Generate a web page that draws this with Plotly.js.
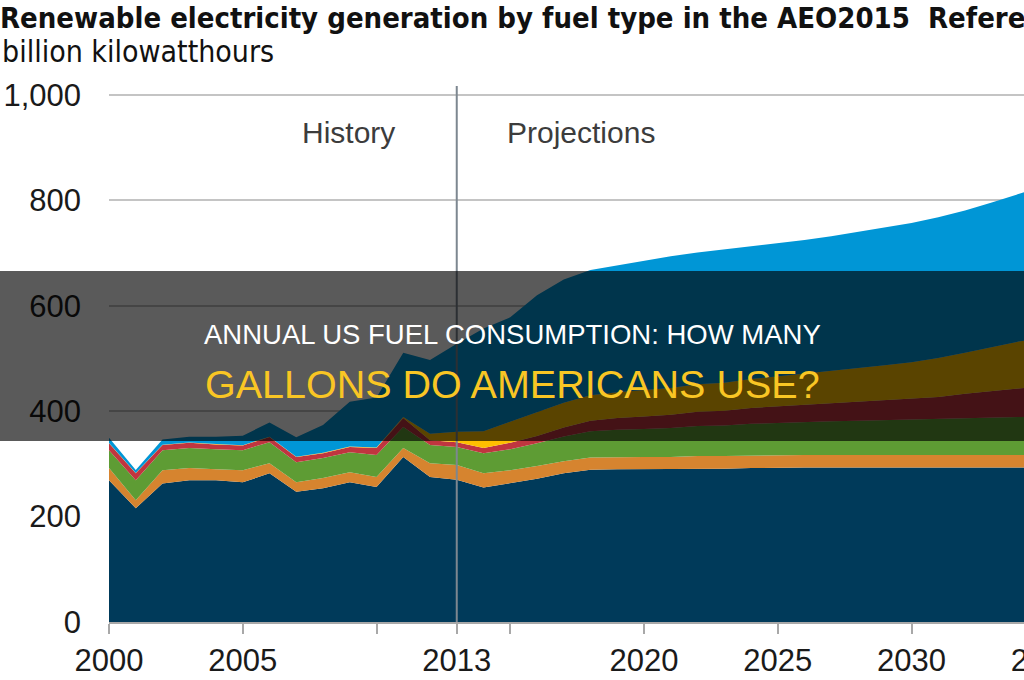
<!DOCTYPE html>
<html>
<head>
<meta charset="utf-8">
<script src="https://cdn.plot.ly/plotly-3.0.1.min.js"></script>
<style>
  html, body { margin:0; padding:0; overflow:hidden; width:1024px; height:680px; background:#fff; }
  #chart { width:1200px; height:680px; }
</style>
</head>
<body>
<div id="chart"></div>
<script>
// ---- data (billion kilowatthours) ----
const years = [2000,2001,2002,2003,2004,2005,2006,2007,2008,2009,2010,2011,2012,2013,
               2014,2015,2016,2017,2018,2019,2020,2021,2022,2023,2024,2025,2026,2027,
               2028,2029,2030,2031,2032,2033,2034,2035];
const hydro      = [269,216,263,269,269,265,282,247,254,265,256,313,275,270,
                    255,263,272,282,289,290,290,290,291,291,292,293,293,293,293,293,293,293,293,293,293,293];
const msw        = [23,15,25,23,21,23,19,18,19,19,19,17,26,28,
                    27,25,24,23,23,23,23,23,24,24,24,24,24,24,24,24,24,24,24,24,24,24];
const biomass    = [34,38,38,38,38,38,40,38,38,38,42,40,35,34,
                    38,40,43,47,50,52,53,55,57,58,60,61,62,64,65,66,67,68,70,71,72,73];
const geothermal = [13,13,10,10,9,9,10,10,9,10,13,17,9,9,
                    10,12,14,17,20,22,24,25,27,28,30,31,33,34,36,37,39,42,46,50,55,58];
const solar      = [0.5,0.5,0.5,0.5,0.6,0.6,0.5,0.6,0.9,0.9,1.2,2,12,20,
                    32,40,45,47,48,49,50,51,52,53,55,57,59,61,64,67,70,74,78,83,88,92];
const wind       = [10,6,10,11,14,18,27,37,53,85,95,122,140,167,
                    195,198,222,234,238,241,246,250,250,253,251,252,254,256,258,261,264,267,270,275,280,288];

const xTickVals = [2000,2005,2010,2013,2015,2020,2025,2030,2035,2040];
const xTickText = ['2000','2005','','2013','','2020','2025','2030','2035','2040'];
const yTickVals = [0,200,400,600,800,1000];
const yTickText = ['0','200','400','600','800','1,000'];

const seriesNames  = ['Hydropower','MSW/LFG','Biomass','Geothermal','Solar','Wind'];
const seriesValues = [hydro, msw, biomass, geothermal, solar, wind];
const seriesColors = ['#003a5a','#d6842f','#5e9c34','#c0353f','#ffc000','#0096d6'];

const traces = seriesValues.map((vals, i) => ({
  type: 'scatter',
  mode: 'lines',
  x: years,
  y: vals,
  name: seriesNames[i],
  stackgroup: 'one',
  line: { width: 0, color: seriesColors[i] },
  fillcolor: seriesColors[i],
  hoverinfo: 'skip'
}));

const tickFont = { family: '"Liberation Sans", Arial, sans-serif', size: 31, color: '#1a1a1a' };
const narrow = '"Liberation Sans Narrow", "Arial Narrow", "DejaVu Sans Condensed", sans-serif';

const layout = {
  width: 1200, height: 680,
  margin: { l: 109, r: 21, t: 86, b: 58 },
  paper_bgcolor: '#ffffff', plot_bgcolor: '#ffffff',
  showlegend: false,
  hovermode: false,
  title: {
    text: '<b>Renewable electricity generation by fuel type in the AEO2015&nbsp; Reference case</b>',
    x: 0, xref: 'container', xanchor: 'left',
    y: 1 - 18/680, yref: 'container', yanchor: 'middle',
    font: { family: narrow, size: 29, color: '#111111' }
  },
  xaxis: {
    range: [2000, 2040],
    tickmode: 'array', tickvals: xTickVals, ticktext: xTickText,
    ticks: 'outside', ticklen: 10, tickwidth: 2, tickcolor: '#a8a8a8',
    showline: true, linecolor: '#a8a8a8', linewidth: 2,
    showgrid: false, zeroline: false,
    tickfont: tickFont, fixedrange: true
  },
  yaxis: {
    range: [0, 1017],
    tickmode: 'array', tickvals: yTickVals, ticktext: yTickText,
    showgrid: true, gridcolor: '#c4c4c4', gridwidth: 2,
    zeroline: false, showline: false, ticks: '',
    ticklabelstandoff: 27,
    tickfont: tickFont, fixedrange: true
  },
  shapes: [
    { type: 'line', xref: 'x', yref: 'paper', x0: 2013, x1: 2013, y0: 0, y1: 1,
      line: { color: '#7d8790', width: 2 }, layer: 'above' },
    { type: 'rect', xref: 'paper', yref: 'paper', x0: -0.2, x1: 1.2,
      y0: (622-441)/536, y1: (622-271)/536,
      fillcolor: 'rgba(0,0,0,0.647)', line: { width: 0 }, layer: 'above' }
  ],
  annotations: [
    { text: 'billion kilowatthours', xref: 'paper', yref: 'paper',
      x: -109/1070, y: (622-52)/536, xanchor: 'left', yanchor: 'middle', showarrow: false,
      font: { family: narrow, size: 30, color: '#111111' } },
    { text: 'History', xref: 'x', yref: 'y', x: 2013, y: 928, xanchor: 'right', xshift: -60,
      yanchor: 'middle', showarrow: false, font: { family: '"Liberation Sans", Arial, sans-serif', size: 30, color: '#3c3c3c' } },
    { text: 'Projections', xref: 'x', yref: 'y', x: 2013, y: 928, xanchor: 'left', xshift: 48,
      yanchor: 'middle', showarrow: false, font: { family: '"Liberation Sans", Arial, sans-serif', size: 30, color: '#3c3c3c' } },
    { text: 'ANNUAL US FUEL CONSUMPTION: HOW MANY', xref: 'paper', yref: 'paper',
      x: (512-109)/1070, y: (622-334)/536, xanchor: 'center', yanchor: 'middle', showarrow: false,
      font: { family: '"Liberation Sans", Arial, sans-serif', size: 27.5, color: '#ffffff' } },
    { text: 'GALLONS DO AMERICANS USE?', xref: 'paper', yref: 'paper',
      x: (512-109)/1070, y: (622-384)/536, xanchor: 'center', yanchor: 'middle', showarrow: false,
      font: { family: '"Liberation Sans", Arial, sans-serif', size: 39.5, color: '#f9c624' } }
  ]
};

Plotly.newPlot('chart', traces, layout, { displayModeBar: false, staticPlot: true });
</script>
</body>
</html>
